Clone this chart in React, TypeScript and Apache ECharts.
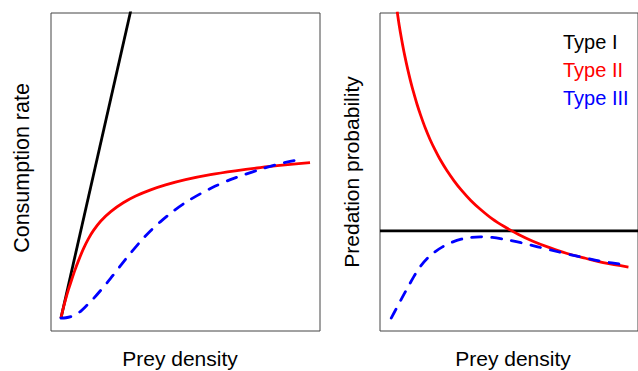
import React, { useEffect, useRef } from "react";
import * as echarts from "echarts";

// Left panel: consumption rate vs prey density
const leftTypeI: [number, number][] = [
  [0, 0],
  [0.3, 1.122],
];
const leftTypeII: [number, number][] = [
  [0, 0], [0.01, 0.036], [0.02, 0.068], [0.03, 0.097], [0.04, 0.123],
  [0.055, 0.161], [0.07, 0.195], [0.09, 0.236], [0.11, 0.27], [0.13, 0.298],
  [0.16, 0.331], [0.2, 0.363], [0.25, 0.393], [0.3, 0.416], [0.36, 0.437],
  [0.42, 0.454], [0.5, 0.472], [0.6, 0.489], [0.7, 0.502], [0.8, 0.513],
  [0.9, 0.522], [1.0, 0.53],
];
const leftTypeIII: [number, number][] = [
  [0, 0], [0.02, 0.0012], [0.04, 0.005], [0.06, 0.012], [0.08, 0.024],
  [0.1, 0.04], [0.13, 0.066], [0.16, 0.095], [0.2, 0.136], [0.24, 0.18],
  [0.28, 0.222], [0.32, 0.262], [0.36, 0.298], [0.4, 0.329], [0.45, 0.364],
  [0.5, 0.394], [0.56, 0.424], [0.62, 0.45], [0.68, 0.472], [0.74, 0.49],
  [0.8, 0.507], [0.86, 0.522], [0.92, 0.534], [0.96, 0.541],
];

// Right panel: predation probability vs prey density
const rightTypeI: [number, number][] = [
  [-0.04, 0.297],
  [1.04, 0.297],
];
const rightTypeII: [number, number][] = [
  [0.032, 1.045], [0.04, 1.0], [0.05, 0.952], [0.06, 0.909], [0.07, 0.87],
  [0.08, 0.834], [0.09, 0.801], [0.1, 0.771], [0.115, 0.729], [0.13, 0.692],
  [0.15, 0.647], [0.17, 0.608], [0.19, 0.574], [0.21, 0.543], [0.24, 0.503],
  [0.27, 0.468], [0.3, 0.437], [0.34, 0.401], [0.38, 0.371], [0.43, 0.338],
  [0.48, 0.312], [0.54, 0.285], [0.6, 0.262], [0.67, 0.24], [0.74, 0.221],
  [0.82, 0.204], [0.9, 0.188], [1.0, 0.174],
];
const rightTypeIII: [number, number][] = [
  [0.007, 0.0], [0.03, 0.035], [0.055, 0.073], [0.08, 0.11], [0.105, 0.146],
  [0.13, 0.177], [0.16, 0.205], [0.19, 0.226], [0.22, 0.242], [0.26, 0.258],
  [0.3, 0.269], [0.34, 0.275], [0.38, 0.277], [0.43, 0.275], [0.49, 0.267],
  [0.55, 0.257], [0.62, 0.243], [0.7, 0.227], [0.78, 0.212], [0.86, 0.198],
  [0.93, 0.188], [1.0, 0.18],
];

const typeNames = ["Type I", "Type II", "Type III"];
const typeColors = ["#000000", "#ff0000", "#0000ff"];
const xTitle = "Prey density";
const yTitleLeft = "Consumption rate";
const yTitleRight = "Predation probability";

const FONT = "'Liberation Sans', Arial, sans-serif";

export default function App() {
  const ref = useRef<HTMLDivElement>(null);
  useEffect(() => {
    if (!ref.current) return;
    const chart = echarts.init(ref.current, undefined, { renderer: "svg" });
    const hiddenAxis = {
      type: "value" as const,
      axisLine: { show: false },
      axisTick: { show: false },
      axisLabel: { show: false },
      splitLine: { show: false },
    };
    const mk = (name: string, idx: number, data: [number, number][], panel: number, dashed: boolean, smooth: boolean) => ({
      type: "line" as const,
      name,
      xAxisIndex: panel,
      yAxisIndex: panel,
      data,
      showSymbol: false,
      smooth: smooth ? 0.3 : false,
      clip: true,
      color: typeColors[idx],
      lineStyle: {
        color: typeColors[idx],
        width: 2.8,
        type: dashed ? [10, 10] : "solid",
        cap: dashed ? "round" : "butt",
        join: "round",
      },
      emphasis: { disabled: true },
      z: 2 + idx,
    });
    chart.setOption({
      animation: false,
      grid: [
        { left: 51, top: 13, width: 269, height: 318, show: true, borderColor: "#444", borderWidth: 1, backgroundColor: "transparent" },
        { left: 380, top: 13, width: 269, height: 318, show: true, borderColor: "#444", borderWidth: 1, backgroundColor: "transparent" },
      ],
      xAxis: [
        { ...hiddenAxis, gridIndex: 0, min: -0.04, max: 1.04 },
        { ...hiddenAxis, gridIndex: 1, min: -0.04, max: 1.04 },
      ],
      yAxis: [
        { ...hiddenAxis, gridIndex: 0, min: -0.044, max: 1.04 },
        { ...hiddenAxis, gridIndex: 1, min: -0.044, max: 1.04 },
      ],
      legend: {
        orient: "vertical",
        left: 553,
        top: 27,
        icon: "rect",
        itemWidth: 0,
        itemHeight: 0,
        itemGap: 8,
        selectedMode: false,
        textStyle: { fontSize: 20, fontFamily: FONT },
        data: typeNames.map((n, i) => ({ name: n, textStyle: { color: typeColors[i] } })),
      },
      graphic: [
        { type: "text", x: 180, y: 358, style: { text: xTitle, font: `21px ${FONT}`, fill: "#000", align: "center", verticalAlign: "middle" } },
        { type: "text", x: 513, y: 358, style: { text: xTitle, font: `21px ${FONT}`, fill: "#000", align: "center", verticalAlign: "middle" } },
        { type: "text", x: 22, y: 168, rotation: Math.PI / 2, style: { text: yTitleLeft, font: `21.5px ${FONT}`, fill: "#000", align: "center", verticalAlign: "middle" } },
        { type: "text", x: 351, y: 172, rotation: Math.PI / 2, style: { text: yTitleRight, font: `21px ${FONT}`, fill: "#000", align: "center", verticalAlign: "middle" } },
      ],
      series: [
        mk(typeNames[0], 0, leftTypeI, 0, false, false),
        mk(typeNames[1], 1, leftTypeII, 0, false, true),
        mk(typeNames[2], 2, leftTypeIII, 0, true, true),
        mk(typeNames[0], 0, rightTypeI, 1, false, false),
        mk(typeNames[1], 1, rightTypeII, 1, false, true),
        mk(typeNames[2], 2, rightTypeIII, 1, true, true),
      ],
    });
    return () => chart.dispose();
  }, []);
  return (
    <div
      ref={ref}
      style={{ position: "fixed", left: 0, top: 0, width: 638, height: 371, background: "#fff" }}
    />
  );
}
